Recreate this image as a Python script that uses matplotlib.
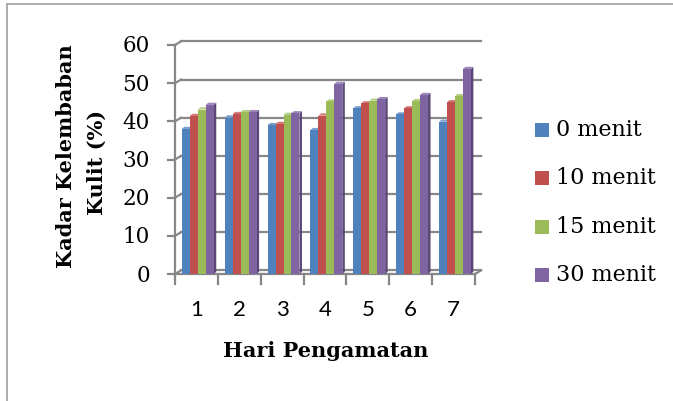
import numpy as np
import matplotlib
matplotlib.use("Agg")
import matplotlib.pyplot as plt
from matplotlib.patches import Polygon, Rectangle
from matplotlib.lines import Line2D

# Skin moisture (%) per observation day for each exposure duration
days = ["1", "2", "3", "4", "5", "6", "7"]
series_names = ["0 menit", "10 menit", "15 menit", "30 menit"]
menit_0 = [38.0, 41.0, 39.0, 37.7, 43.4, 41.8, 39.9]
menit_10 = [41.4, 41.9, 39.3, 41.5, 44.7, 43.4, 45.0]
menit_15 = [43.1, 42.4, 41.7, 45.2, 45.4, 45.3, 46.6]
menit_30 = [44.3, 42.4, 42.1, 49.8, 45.8, 46.9, 53.7]
y_ticks = [0, 10, 20, 30, 40, 50, 60]

series = [menit_0, menit_10, menit_15, menit_30]
front = ["#4F81BD", "#C0504D", "#9BBB59", "#8064A2"]
side = ["#375B87", "#8E3735", "#6F883D", "#5A4677"]
top = ["#7A9FCF", "#D27876", "#B5CF82", "#9C86BB"]

W, H = 673, 401
fig = plt.figure(figsize=(W / 100, H / 100), dpi=100)
fig.patch.set_facecolor("white")

# outer frame
fig.add_artist(Line2D([7 / W, 7 / W], [0, 1 - 4 / H], color="#a6a6a6", lw=1.3,
                      transform=fig.transFigure))
fig.add_artist(Line2D([7 / W, 1], [1 - 4 / H, 1 - 4 / H], color="#a6a6a6", lw=1.3,
                      transform=fig.transFigure))

ax = fig.add_axes([175 / W, 1 - 274 / H, 300 / W, 229 / H])
ax.set_xlim(0.5, 7.5)
ax.set_ylim(0, 60)
ax.axis("off")

px_x = 7 / 300.0   # data units per pixel (x)
px_y = 60 / 229.0  # data units per pixel (y)
dx, dy = 6 * px_x, 3.6 * px_y      # wall depth
bdx, bdy = 2.5 * px_x, 2.2 * px_y  # bar depth
grid_c = "#878787"
glw = 1.6

# back wall gridlines with diagonal connectors and left ticks
for v in y_ticks:
    ax.add_line(Line2D([0.5 + dx, 7.5 + dx], [v + dy, v + dy], color=grid_c, lw=glw,
                       clip_on=False, zorder=1))
    ax.add_line(Line2D([0.5, 0.5 + dx], [v, v], color=grid_c, lw=0, clip_on=False))
    ax.add_line(Line2D([0.5, 0.5 + dx], [v, v + dy], color=grid_c, lw=glw,
                       clip_on=False, zorder=1))
    ax.add_line(Line2D([0.5 - 7 * px_x, 0.5], [v, v], color=grid_c, lw=glw,
                       clip_on=False, zorder=1))
    ax.text(0.5 - 25 * px_x, v - 1.5 * px_y, str(v), ha="right", va="center",
            fontsize=15.5, family="DejaVu Serif", color="black")

# front left axis
ax.add_line(Line2D([0.5, 0.5], [0, 60], color=grid_c, lw=glw, clip_on=False, zorder=1))
# floor front edge and right connector
ax.add_line(Line2D([0.5, 7.5], [0, 0], color=grid_c, lw=glw, clip_on=False, zorder=1))
ax.add_line(Line2D([7.5, 7.5 + dx], [0, dy], color=grid_c, lw=glw, clip_on=False, zorder=1))
# category ticks below front edge
for b in np.arange(0.5, 8.0, 1.0):
    ax.add_line(Line2D([b, b], [0, -10 * px_y], color=grid_c, lw=glw, clip_on=False, zorder=1))

# bars with front, side and top faces
bw = 0.186
for i in range(len(days)):
    x0 = i + 1 - 0.5 + 0.16
    for k, vals in enumerate(series):
        v = vals[i]
        x = x0 + k * bw
        ax.add_patch(Polygon([(x + bw, 0), (x + bw + bdx, bdy), (x + bw + bdx, v + bdy), (x + bw, v)],
                             closed=True, facecolor=side[k], edgecolor="none", zorder=3 + k * 0.01 + i))
        ax.add_patch(Polygon([(x, v), (x + bdx, v + bdy), (x + bw + bdx, v + bdy), (x + bw, v)],
                             closed=True, facecolor=top[k], edgecolor="none", zorder=3 + k * 0.01 + i))
        ax.add_patch(Rectangle((x, 0), bw, v, facecolor=front[k], edgecolor="none",
                               zorder=3 + k * 0.01 + i + 0.001))

# category labels
for i, d in enumerate(days):
    ax.text(i + 1, -36 * px_y, d, ha="center", va="center", fontsize=16,
            family="Lato", color="black")

# axis titles
fig.text(326 / W, 1 - 351 / H, "Hari Pengamatan", ha="center", va="center",
         fontsize=15, fontweight="bold", family="DejaVu Serif")
fig.text(66 / W, 1 - 156 / H, "Kadar Kelembaban", ha="center", va="center", rotation=90,
         fontsize=15, fontweight="bold", family="DejaVu Serif")
fig.text(97 / W, 1 - 162 / H, "Kulit (%)", ha="center", va="center", rotation=90,
         fontsize=15, fontweight="bold", family="DejaVu Serif")

# legend
leg_y = [130, 178, 227, 275]
for k, name in enumerate(series_names):
    y = leg_y[k]
    fig.add_artist(Rectangle((535 / W, 1 - (y + 7) / H), 14 / W, 14 / H,
                             facecolor=front[k], edgecolor="none", transform=fig.transFigure))
    fig.text(556 / W, 1 - y / H, name, ha="left", va="center", fontsize=16,
             family="DejaVu Serif")

fig.savefig("out.png", dpi=100)
